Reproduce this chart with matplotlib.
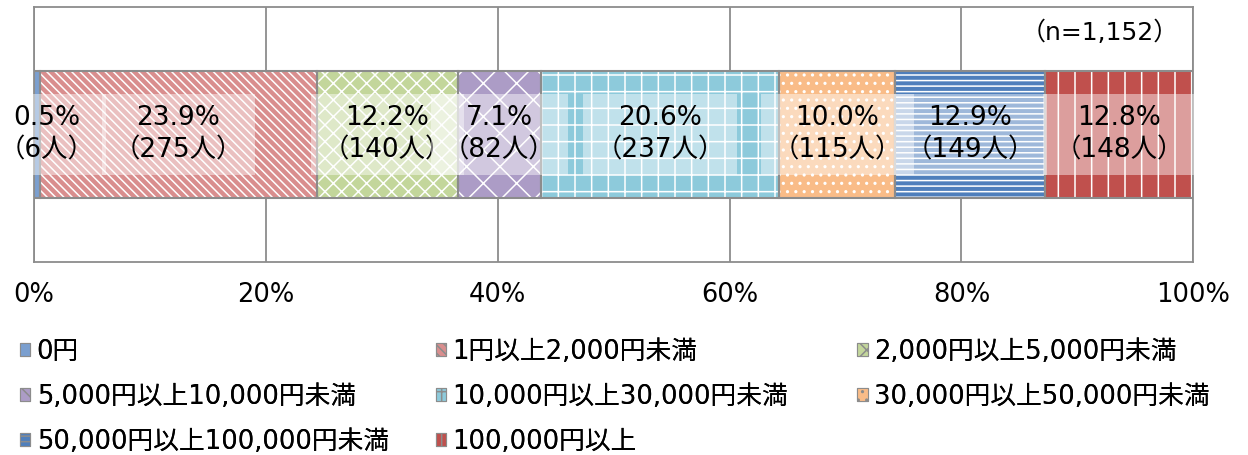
import numpy as np
import matplotlib
matplotlib.use("Agg")
import matplotlib.pyplot as plt
from matplotlib.patches import Patch

plt.rcParams['font.family'] = ['DejaVu Sans', 'Noto Sans CJK JP']
plt.rcParams['hatch.linewidth'] = 1.1

# data
categories = ['0円', '1円以上2,000円未満', '2,000円以上5,000円未満',
              '5,000円以上10,000円未満', '10,000円以上30,000円未満',
              '30,000円以上50,000円未満', '50,000円以上100,000円未満',
              '100,000円以上']
percents = [0.5, 23.9, 12.2, 7.1, 20.6, 10.0, 12.9, 12.8]
counts = [6, 275, 140, 82, 237, 115, 149, 148]
n_total = 1152
xticks = [0, 20, 40, 60, 80, 100]

colors = ['#7B9FCF', '#D98E8E', '#C3D69B', '#AC9CC6',
          '#8DCADB', '#F9BC88', '#4F7FBC', '#C0504D']
hatches = ['', '\\\\\\\\', 'xx', 'x', '+', '..', '---', '|']

fig = plt.figure(figsize=(12.48, 4.55), dpi=100)
ax = fig.add_axes([0.0272, 0.424, 0.929, 0.561])

left = 0
for i, (p, c) in enumerate(zip(percents, counts)):
    ax.barh(0, p, left=left, height=1, color=colors[i], hatch=hatches[i],
            edgecolor='white', linewidth=0, zorder=2)
    ax.barh(0, p, left=left, height=1, fill=False, edgecolor='#8c8c8c',
            linewidth=1.5, zorder=3)
    # narrow segment label is nudged right so it stays inside the figure
    dx = 7 if p < 3 else 0
    ax.annotate('{:.1f}%\n（{}人）'.format(p, c), (left + p / 2, 0),
                xytext=(dx, 0), textcoords='offset points',
                ha='center', va='center', fontsize=19, linespacing=1.3,
                zorder=4, annotation_clip=False,
                bbox=dict(boxstyle='square,pad=0.45', facecolor='white',
                          alpha=0.45, edgecolor='none'))
    left += p

ax.set_xlim(0, 100)
ax.set_ylim(-1, 1)
ax.set_xticks(xticks)
ax.set_xticklabels(['{}%'.format(t) for t in xticks], fontsize=18.5)
ax.tick_params(axis='x', length=0, pad=14)
ax.set_yticks([])
ax.grid(axis='x', color='#8c8c8c', linewidth=1.3, zorder=0)
for s in ax.spines.values():
    s.set_color('#8c8c8c')
    s.set_linewidth(1.3)

ax.text(0.919, 0.9, '（n={:,}）'.format(n_total), transform=ax.transAxes,
        ha='center', va='center', fontsize=18)

# legend, row-major in three columns
col_x = [0.016, 0.349, 0.687]
for col in range(3):
    idx = list(range(col, len(categories), 3))
    handles = [Patch(facecolor=colors[k], hatch=hatches[k], edgecolor='#8c8c8c',
                     linewidth=0.8) for k in idx]
    leg = fig.legend(handles, [categories[k] for k in idx], loc='upper left',
                     bbox_to_anchor=(col_x[col], 0.256), frameon=False,
                     fontsize=18.5, handlelength=0.4, handleheight=0.4,
                     handletextpad=0.25, labelspacing=0.75, borderaxespad=0,
                     borderpad=0)
    fig.add_artist(leg)

fig.savefig('out.png', dpi=100)
